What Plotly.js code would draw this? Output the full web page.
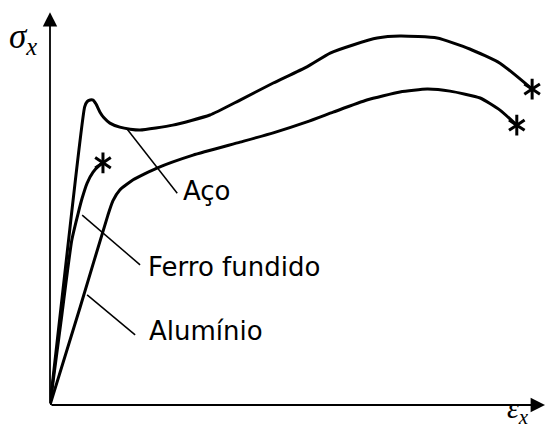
<!DOCTYPE html>
<html>
<head>
<meta charset="utf-8">
<script src="https://cdn.plot.ly/plotly-3.0.1.min.js"></script>
<style>
  html, body { margin: 0; padding: 0; background: #fff; }
  #chart { width: 545px; height: 432px; }
</style>
</head>
<body>
<div id="chart"></div>
<script>
// Schematic stress–strain curves (arbitrary units: strain 0–100, stress 0–100)

// Aço (steel): linear part, upper yield peak, yield drop, hardening, necking
const steelStrain = [0, 3.4, 7.0, 7.5, 8.1, 8.7, 9.3, 10.1, 10.9, 12.1, 14.1, 16.2, 18.2, 24.8, 32.3, 38.4, 45.1, 51.9, 56.6, 61.2, 66.1, 70.7, 78.2, 84.8, 90.9, 97.4];
const steelStress = [0, 36.9, 73.6, 74.9, 75.3, 75.3, 74.3, 72.3, 70.9, 69.6, 68.6, 68.1, 67.9, 69.1, 71.6, 75.3, 79.5, 83.5, 86.9, 88.9, 90.6, 91.1, 90.6, 87.9, 84.4, 78.0];

// Ferro fundido (cast iron): brittle, fails early
const ironStrain = [0, 2.2, 4.4, 5.7, 6.5, 7.5, 8.7, 10.1, 10.7];
const ironStress = [0, 20.4, 40.7, 47.4, 51.1, 54.8, 57.5, 59.3, 59.8];

// Alumínio (aluminium): gradual yielding, no distinct yield point
const aluStrain = [0, 6.1, 11.7, 12.7, 14.1, 16.8, 21.6, 28.9, 38.4, 45.1, 51.9, 57.2, 64.0, 70.7, 76.2, 80.8, 86.9, 90.9, 94.3];
const aluStress = [0, 24.2, 46.9, 50.4, 53.1, 55.6, 58.5, 61.7, 64.9, 67.2, 69.9, 72.3, 75.3, 77.3, 78.0, 77.5, 75.8, 72.8, 69.1];

// Rupture points (end of each curve that breaks)
const ruptureStrain = [97.4, 94.3, 10.7];
const ruptureStress = [78.0, 69.1, 59.8];

// Material names and their leader lines (curve point -> label)
const labels = ['Aço', 'Ferro fundido', 'Alumínio'];
const labelStrain = [26.5, 19.4, 19.6];
const labelStress = [52.9, 34.1, 18.3];
const leaderFromStrain = [15.6, 6.5, 7.5];
const leaderFromStress = [68.1, 46.9, 27.2];
const leaderToStrain = [25.7, 18.2, 17.2];
const leaderToStress = [52.3, 34.6, 17.3];

// Axis extents
const xMax = 100, yMax = 100, yArrowTip = 97;

const curveLine = { color: '#000', width: 3, shape: 'spline', smoothing: 0.5 };

const traces = [
  { x: steelStrain, y: steelStress, mode: 'lines', line: curveLine, name: 'Aço' },
  { x: ironStrain, y: ironStress, mode: 'lines', line: curveLine, name: 'Ferro fundido' },
  { x: aluStrain, y: aluStress, mode: 'lines', line: curveLine, name: 'Alumínio' }
];

// Leader lines, one segment per label
const lx = [], ly = [];
for (let i = 0; i < labels.length; i++) {
  lx.push(leaderFromStrain[i], leaderToStrain[i], null);
  ly.push(leaderFromStress[i], leaderToStress[i], null);
}
traces.push({ x: lx, y: ly, mode: 'lines', line: { color: '#000', width: 1.5 }, connectgaps: false });

// Rupture asterisks built from two three-armed symbols
['y-up-open', 'y-down-open'].forEach(sym => {
  traces.push({
    x: ruptureStrain, y: ruptureStress, mode: 'markers', cliponaxis: false,
    marker: { symbol: sym, size: 13, color: '#000', line: { color: '#000', width: 3 } }
  });
});

const annotations = [];
for (let i = 0; i < labels.length; i++) {
  annotations.push({
    x: labelStrain[i], y: labelStress[i], text: labels[i], showarrow: false,
    xanchor: 'left', yanchor: 'middle',
    font: { family: 'DejaVu Sans', size: 26, color: '#000' }
  });
}
// Coordinate axes drawn as arrows from the origin
annotations.push({
  x: xMax, y: 0, ax: 0, ay: 0, axref: 'x', ayref: 'y', text: '',
  showarrow: true, arrowhead: 2, arrowsize: 1.6, arrowwidth: 1.8, arrowcolor: '#000'
});
annotations.push({
  x: 0, y: yArrowTip, ax: 0, ay: 0, axref: 'x', ayref: 'y', text: '',
  showarrow: true, arrowhead: 2, arrowsize: 1.6, arrowwidth: 1.8, arrowcolor: '#000'
});
// Axis symbols (placed in paper space, outside the plotting area)
annotations.push({
  xref: 'paper', yref: 'paper', x: -0.086, y: 0.905,
  text: '<i>σ</i><sub><i>x</i></sub>', showarrow: false,
  xanchor: 'left', yanchor: 'middle',
  font: { family: 'Liberation Serif', size: 35, color: '#000' }
});
annotations.push({
  xref: 'paper', yref: 'paper', x: 0.919, y: -0.063,
  text: '<i>ε</i><sub><i>x</i></sub>', showarrow: false,
  xanchor: 'left', yanchor: 'bottom',
  font: { family: 'Liberation Serif', size: 30, color: '#000' }
});

const hidden = { visible: false, fixedrange: true, zeroline: false, showgrid: false };

const layout = {
  width: 545, height: 432,
  margin: { l: 50, r: 0, t: 0, b: 27 },
  paper_bgcolor: '#fff', plot_bgcolor: '#fff',
  showlegend: false,
  xaxis: Object.assign({ range: [0, xMax] }, hidden),
  yaxis: Object.assign({ range: [0, yMax] }, hidden),
  annotations: annotations
};

Plotly.newPlot('chart', traces, layout, { staticPlot: true, displayModeBar: false });
</script>
</body>
</html>
